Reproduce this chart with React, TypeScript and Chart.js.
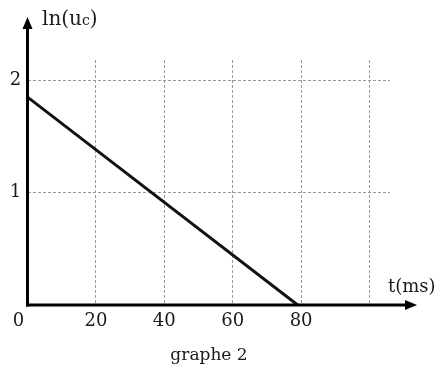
import React, { useEffect, useRef } from "react";
import { Chart, registerables } from "chart.js";

Chart.register(...registerables);

const timeMs = [0, 79];
const lnUc = [1.85, 0];
const xGridValues = [20, 40, 60, 80, 100];
const xTickLabels = ["20", "40", "60", "80"];
const yGridValues = [1, 2];
const yTickLabels = ["1", "2"];
const xAxisLabel = "t(ms)";
const yAxisMain = "ln(u";
const yAxisSub = "c";
const caption = "graphe 2";

const SERIF = '"DejaVu Serif", "Liberation Serif", serif';

const axesPlugin = {
  id: "axesPlugin",
  afterDraw(chart: any) {
    const { ctx, scales } = chart;
    const xs = scales.x;
    const ys = scales.y;
    const x0 = xs.getPixelForValue(0);
    const y0 = ys.getPixelForValue(0);
    ctx.save();
    ctx.strokeStyle = "#000";
    ctx.fillStyle = "#000";
    ctx.lineWidth = 3;
    ctx.lineCap = "butt";
    // x axis
    const xEnd = 417;
    ctx.beginPath();
    ctx.moveTo(x0 - 1.5, y0);
    ctx.lineTo(xEnd - 8, y0);
    ctx.stroke();
    ctx.beginPath();
    ctx.moveTo(xEnd, y0);
    ctx.lineTo(xEnd - 12, y0 - 5);
    ctx.lineTo(xEnd - 12, y0 + 5);
    ctx.closePath();
    ctx.fill();
    // y axis
    const yEnd = 17;
    ctx.beginPath();
    ctx.moveTo(x0, y0 + 1.5);
    ctx.lineTo(x0, yEnd + 8);
    ctx.stroke();
    ctx.beginPath();
    ctx.moveTo(x0, yEnd);
    ctx.lineTo(x0 - 5, yEnd + 12);
    ctx.lineTo(x0 + 5, yEnd + 12);
    ctx.closePath();
    ctx.fill();

    // tick labels
    ctx.fillStyle = "#1a1a1a";
    ctx.font = `18px ${SERIF}`;
    ctx.textAlign = "center";
    ctx.textBaseline = "middle";
    xTickLabels.forEach((lab) => {
      ctx.fillText(lab, xs.getPixelForValue(Number(lab)), y0 + 16);
    });
    ctx.fillText("0", x0 - 9, y0 + 16);
    yTickLabels.forEach((lab) => {
      ctx.fillText(lab, x0 - 12, ys.getPixelForValue(Number(lab)));
    });

    // axis titles
    ctx.textAlign = "left";
    ctx.textBaseline = "alphabetic";
    ctx.font = `18px ${SERIF}`;
    ctx.fillText(xAxisLabel, 388, y0 - 13);
    ctx.font = `20px ${SERIF}`;
    ctx.fillText(yAxisMain, 42, 25);
    const w = ctx.measureText(yAxisMain).width;
    ctx.font = `14px ${SERIF}`;
    ctx.fillText(yAxisSub, 42 + w, 25);
    const w2 = ctx.measureText(yAxisSub).width;
    ctx.font = `20px ${SERIF}`;
    ctx.fillText(")", 42 + w + w2, 25);

    // caption
    ctx.textAlign = "center";
    ctx.font = `17px ${SERIF}`;
    ctx.fillText(caption, 209, 360);
    ctx.restore();
  },
};

export default function App() {
  const ref = useRef<HTMLCanvasElement | null>(null);
  useEffect(() => {
    document.body.style.margin = "0";
    const canvas = ref.current;
    if (!canvas) return;
    const chart = new Chart(canvas, {
      type: "scatter",
      data: {
        datasets: [
          {
            data: timeMs.map((t, i) => ({ x: t, y: lnUc[i] })),
            showLine: true,
            borderColor: "#111",
            borderWidth: 3,
            pointRadius: 0,
            fill: false,
          },
        ],
      },
      options: {
        responsive: false,
        animation: false,
        events: [],
        layout: { padding: { left: 27.5, top: 60, right: 51, bottom: 62 } },
        plugins: { legend: { display: false }, tooltip: { enabled: false } },
        scales: {
          x: {
            type: "linear",
            min: 0,
            max: 106,
            afterBuildTicks: (scale: any) => {
              scale.ticks = xGridValues.map((v) => ({ value: v }));
            },
            ticks: { display: false },
            grid: { color: "#999", lineWidth: 1, drawTicks: false },
            border: { display: false, dash: [3, 2] },
          },
          y: {
            type: "linear",
            min: 0,
            max: 2.18,
            afterBuildTicks: (scale: any) => {
              scale.ticks = yGridValues.map((v) => ({ value: v }));
            },
            ticks: { display: false },
            grid: { color: "#999", lineWidth: 1, drawTicks: false },
            border: { display: false, dash: [3, 2] },
          },
        },
      },
      plugins: [axesPlugin],
    } as any);
    return () => chart.destroy();
  }, []);
  return (
    <div style={{ position: "absolute", left: 0, top: 0, width: 441, height: 367, background: "#fff" }}>
      <canvas ref={ref} width={441} height={367} style={{ width: 441, height: 367 }} />
    </div>
  );
}
